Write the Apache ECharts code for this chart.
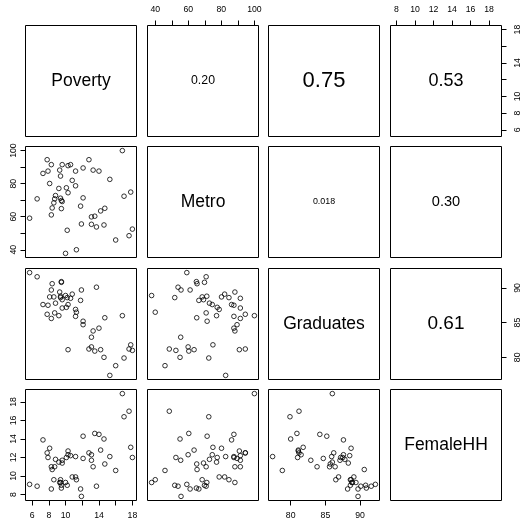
<!DOCTYPE html>
<html>
<head>
<meta charset="utf-8">
<title>pairs</title>
<script src="https://cdn.jsdelivr.net/npm/echarts@6.0.0/dist/echarts.min.js"></script>
<style>
    html, body { margin: 0; padding: 0; background: #fff; }
    #pairsChart { width: 523px; height: 521px; }
</style>
</head>
<body>
<div id="pairsChart"></div>
<script>
// 变量名
var varNames = ['Poverty', 'Metro', 'Graduates', 'FemaleHH'];

// 各州数据
var poverty = [5.7, 6.6, 7.3, 7.8, 7.9, 8.1, 8.3, 8.3, 8.4, 8.6, 8.7, 8.8, 9.2, 9.3, 9.4, 9.4, 9.5, 9.5, 9.6, 9.6,
    10.0, 10.1, 10.2, 10.3, 10.3, 10.6, 10.8, 11.2, 11.2, 11.3, 11.8, 11.9, 12.1, 12.1, 12.8, 13.1, 13.1, 13.3, 13.5, 13.7,
    14.0, 14.2, 14.6, 14.7, 15.3, 16.0, 16.8, 17.0, 17.6, 17.8, 18.0];
var metro = [59.1, 70.8, 86.2, 94.5, 87.6, 80.1, 91.5, 61.1, 65.3, 68.4, 70.8, 72.8, 77.1, 88.2, 71.2, 84.6, 69.8, 64.9, 69.2, 91.5,
    37.8, 77.5, 51.8, 90.9, 74.5, 91.5, 82.0, 87.6, 78.7, 40.0, 66.4, 55.6, 89.5, 71.4, 94.5, 59.9, 55.4, 88.2, 60.3, 53.8,
    87.6, 63.5, 55.0, 65.1, 82.6, 45.9, 100.0, 72.4, 48.5, 74.9, 52.5];
var graduates = [92.2, 91.6, 87.6, 86.2, 87.5, 88.7, 85.6, 89.7, 90.6, 88.7, 86.4, 87.8, 86.0, 89.4, 88.8, 88.6, 90.8, 90.9, 88.3, 87.1,
    88.9, 87.2, 88.6, 81.1, 87.6, 88.5, 89.1, 85.9, 86.9, 86.5, 88.2, 89.7, 84.7, 85.2, 81.2, 81.5, 82.9, 83.8, 80.9, 90.1,
    84.2, 81.1, 80.0, 85.7, 77.4, 78.8, 86.0, 79.9, 81.2, 81.8, 81.0];
var femaleHH = [9.1, 8.9, 13.9, 12.5, 12.0, 13.0, 11.0, 8.6, 10.7, 9.6, 11.0, 11.8, 11.5, 9.3, 9.3, 9.6, 9.0, 8.7, 11.4, 11.7,
    9.3, 12.0, 9.0, 12.7, 12.3, 12.2, 9.9, 12.1, 9.9, 9.6, 8.6, 7.8, 11.9, 14.3, 12.5, 12.3, 11.7, 11.0, 14.6, 8.9,
    14.5, 12.8, 14.0, 11.3, 12.1, 10.6, 18.9, 16.4, 17.0, 13.1, 12.0];

// 刻度和刻度标签
var tickValues = [
    [6, 8, 10, 12, 14, 16, 18],
    [40, 50, 60, 70, 80, 90, 100],
    [80, 85, 90],
    [8, 10, 12, 14, 16, 18]
];
var tickLabels = [
    [6, 8, 10, 14, 18],
    [40, 60, 80, 100],
    [80, 85, 90],
    [8, 10, 12, 14, 16, 18]
];

// 相关系数文字 [行, 列, 文字]
var corPairs = [[0, 1, '0.20'], [0, 2, '0.75'], [0, 3, '0.53'], [1, 2, '0.018'], [1, 3, '0.30'], [2, 3, '0.61']];
var corFontSize = [12.3, 22, 18, 8.9, 14.6, 19];

var vars = [poverty, metro, graduates, femaleHH];
var FONT = '"Liberation Sans", Arial, sans-serif';
var panelLeft = [25.5, 147.5, 268.5, 390.5];
var panelTop = [25.5, 146.5, 268.5, 389.5];
var panelSize = 111;

// 跟 R 一样两端各留 4%
function padRange(arr) {
    var mn = Math.min.apply(null, arr), mx = Math.max.apply(null, arr);
    var p = (mx - mn) * 0.04;
    return [mn - p, mx + p];
}
var ranges = vars.map(padRange);

var grids = [], xAxes = [], yAxes = [], series = [], texts = [];
for (var r = 0; r < 4; r++) {
    for (var c = 0; c < 4; c++) {
        var g = r * 4 + c;
        grids.push({
            left: panelLeft[c],
            top: panelTop[r],
            width: panelSize,
            height: panelSize,
            show: true,
            borderColor: '#000',
            borderWidth: 1,
            backgroundColor: 'transparent',
            outerBoundsMode: 'none'
        });
        var showX = (r === 3 && (c === 0 || c === 2)) || (r === 0 && (c === 1 || c === 3));
        var showY = (c === 0 && (r === 1 || r === 3)) || (c === 3 && (r === 0 || r === 2));
        xAxes.push({
            gridIndex: g,
            type: 'value',
            min: ranges[c][0],
            max: ranges[c][1],
            position: r === 0 ? 'top' : 'bottom',
            axisLine: { show: false },
            splitLine: { show: false },
            axisTick: { show: showX, length: 5, customValues: tickValues[c], lineStyle: { color: '#000', width: 1 } },
            axisLabel: {
                show: showX,
                customValues: tickLabels[c],
                margin: 11,
                fontSize: 8.7,
                fontFamily: FONT,
                color: '#000'
            }
        });
        yAxes.push({
            gridIndex: g,
            type: 'value',
            min: ranges[r][0],
            max: ranges[r][1],
            position: c === 3 ? 'right' : 'left',
            axisLine: { show: false },
            splitLine: { show: false },
            axisTick: { show: showY, length: 5, customValues: tickValues[r], lineStyle: { color: '#000', width: 1 } },
            axisLabel: {
                show: showY,
                customValues: tickLabels[r],
                rotate: 90,
                margin: c === 3 ? 11.5 : 7.5,
                fontSize: 8.7,
                fontFamily: FONT,
                color: '#000'
            }
        });
        var cx = panelLeft[c] + panelSize / 2;
        var cy = panelTop[r] + panelSize / 2;
        if (r > c) {
            //下三角: 散点
            var pts = [];
            for (var k = 0; k < vars[c].length; k++) {
                pts.push([vars[c][k], vars[r][k]]);
            }
            series.push({
                type: 'scatter',
                xAxisIndex: g,
                yAxisIndex: g,
                data: pts,
                symbol: 'circle',
                symbolSize: 4.6,
                silent: true,
                itemStyle: { color: 'rgba(0,0,0,0)', borderColor: '#000', borderWidth: 1 }
            });
        } else if (r === c) {
            texts.push({
                type: 'text', x: cx, y: cy,
                style: { text: varNames[r], fontSize: 17.5, fontFamily: FONT, fill: '#000', align: 'center', verticalAlign: 'middle' }
            });
        }
    }
}

//上三角: 相关系数
corPairs.forEach(function (p, i) {
    texts.push({
        type: 'text',
        x: panelLeft[p[1]] + panelSize / 2,
        y: panelTop[p[0]] + panelSize / 2,
        style: { text: p[2], fontSize: corFontSize[i], fontFamily: FONT, fill: '#000', align: 'center', verticalAlign: 'middle' }
    });
});

var pairsOption = {
    backgroundColor: '#fff',
    animation: false,
    grid: grids,
    xAxis: xAxes,
    yAxis: yAxes,
    series: series,
    graphic: { elements: texts }
};

var pairsChart = echarts.init(document.getElementById('pairsChart'));
pairsChart.setOption(pairsOption);
window.addEventListener("resize", function () {
    pairsChart.resize();
});
</script>
</body>
</html>
